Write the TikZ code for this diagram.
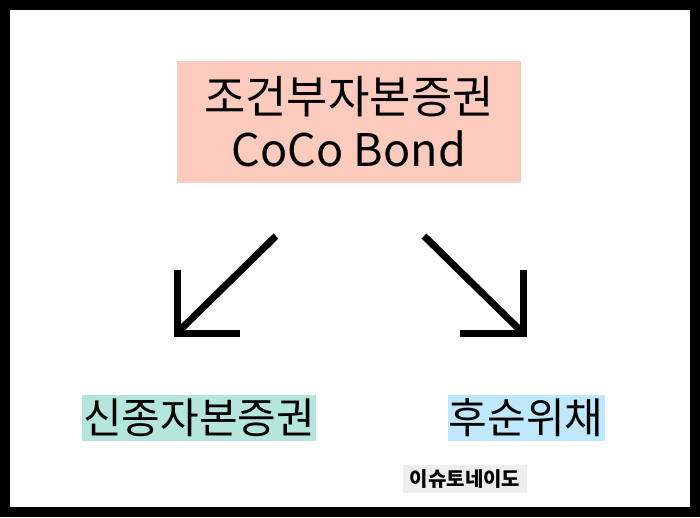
\documentclass[tikz,border=0pt]{standalone}
\usepackage{fontspec}
\setmainfont{Noto Sans CJK KR}
\usepackage{xcolor}
\usepackage{tikz}

\definecolor{cocopink}{RGB}{253,203,189}
\definecolor{hybridteal}{RGB}{180,230,222}
\definecolor{subblue}{RGB}{190,232,253}
\definecolor{markgray}{RGB}{238,238,238}

\tikzset{
  tag/.style={inner sep=0pt, text=black, align=center},
  shaft/.style={line width=7pt, line cap=butt},
  barb/.style={line width=7pt, line join=miter, line cap=butt},
}

\begin{document}
\begin{tikzpicture}[x=1pt, y=-1pt]
    \fill [black] (0,0) rectangle (700,517);
    \fill [white] (10,10) rectangle (690,507);
    \node (coco) [tag, fill=cocopink, minimum width=344, minimum height=122, font=\fontsize{45}{53}\selectfont] at (349,122) {조건부자본증권\\CoCo Bond};
    \node (hybrid) [tag, fill=hybridteal, minimum width=234, minimum height=46, font=\fontsize{42}{46}\selectfont] at (199,418) {신종자본증권};
    \node (subdebt) [tag, fill=subblue, minimum width=157, minimum height=46, font=\fontsize{42}{46}\selectfont] at (526,418) {후순위채};
    \node (mark) [tag, fill=markgray, minimum width=124, minimum height=28, font=\fontsize{20}{24}\selectfont\bfseries] at (465,479) {이슈토네이도};
    \coordinate (lstart) at (276,236);
    \coordinate (ltip) at (177,333);
    \coordinate (rstart) at (424,236);
    \coordinate (rtip) at (523,333);
    \draw [shaft] (lstart) -- (ltip);
    \draw [barb] (ltip) ++(0,-63) -- (ltip) -- ++(63,0);
    \draw [shaft] (rstart) -- (rtip);
    \draw [barb] (rtip) ++(0,-63) -- (rtip) -- ++(-63,0);
\end{tikzpicture}
\end{document}
